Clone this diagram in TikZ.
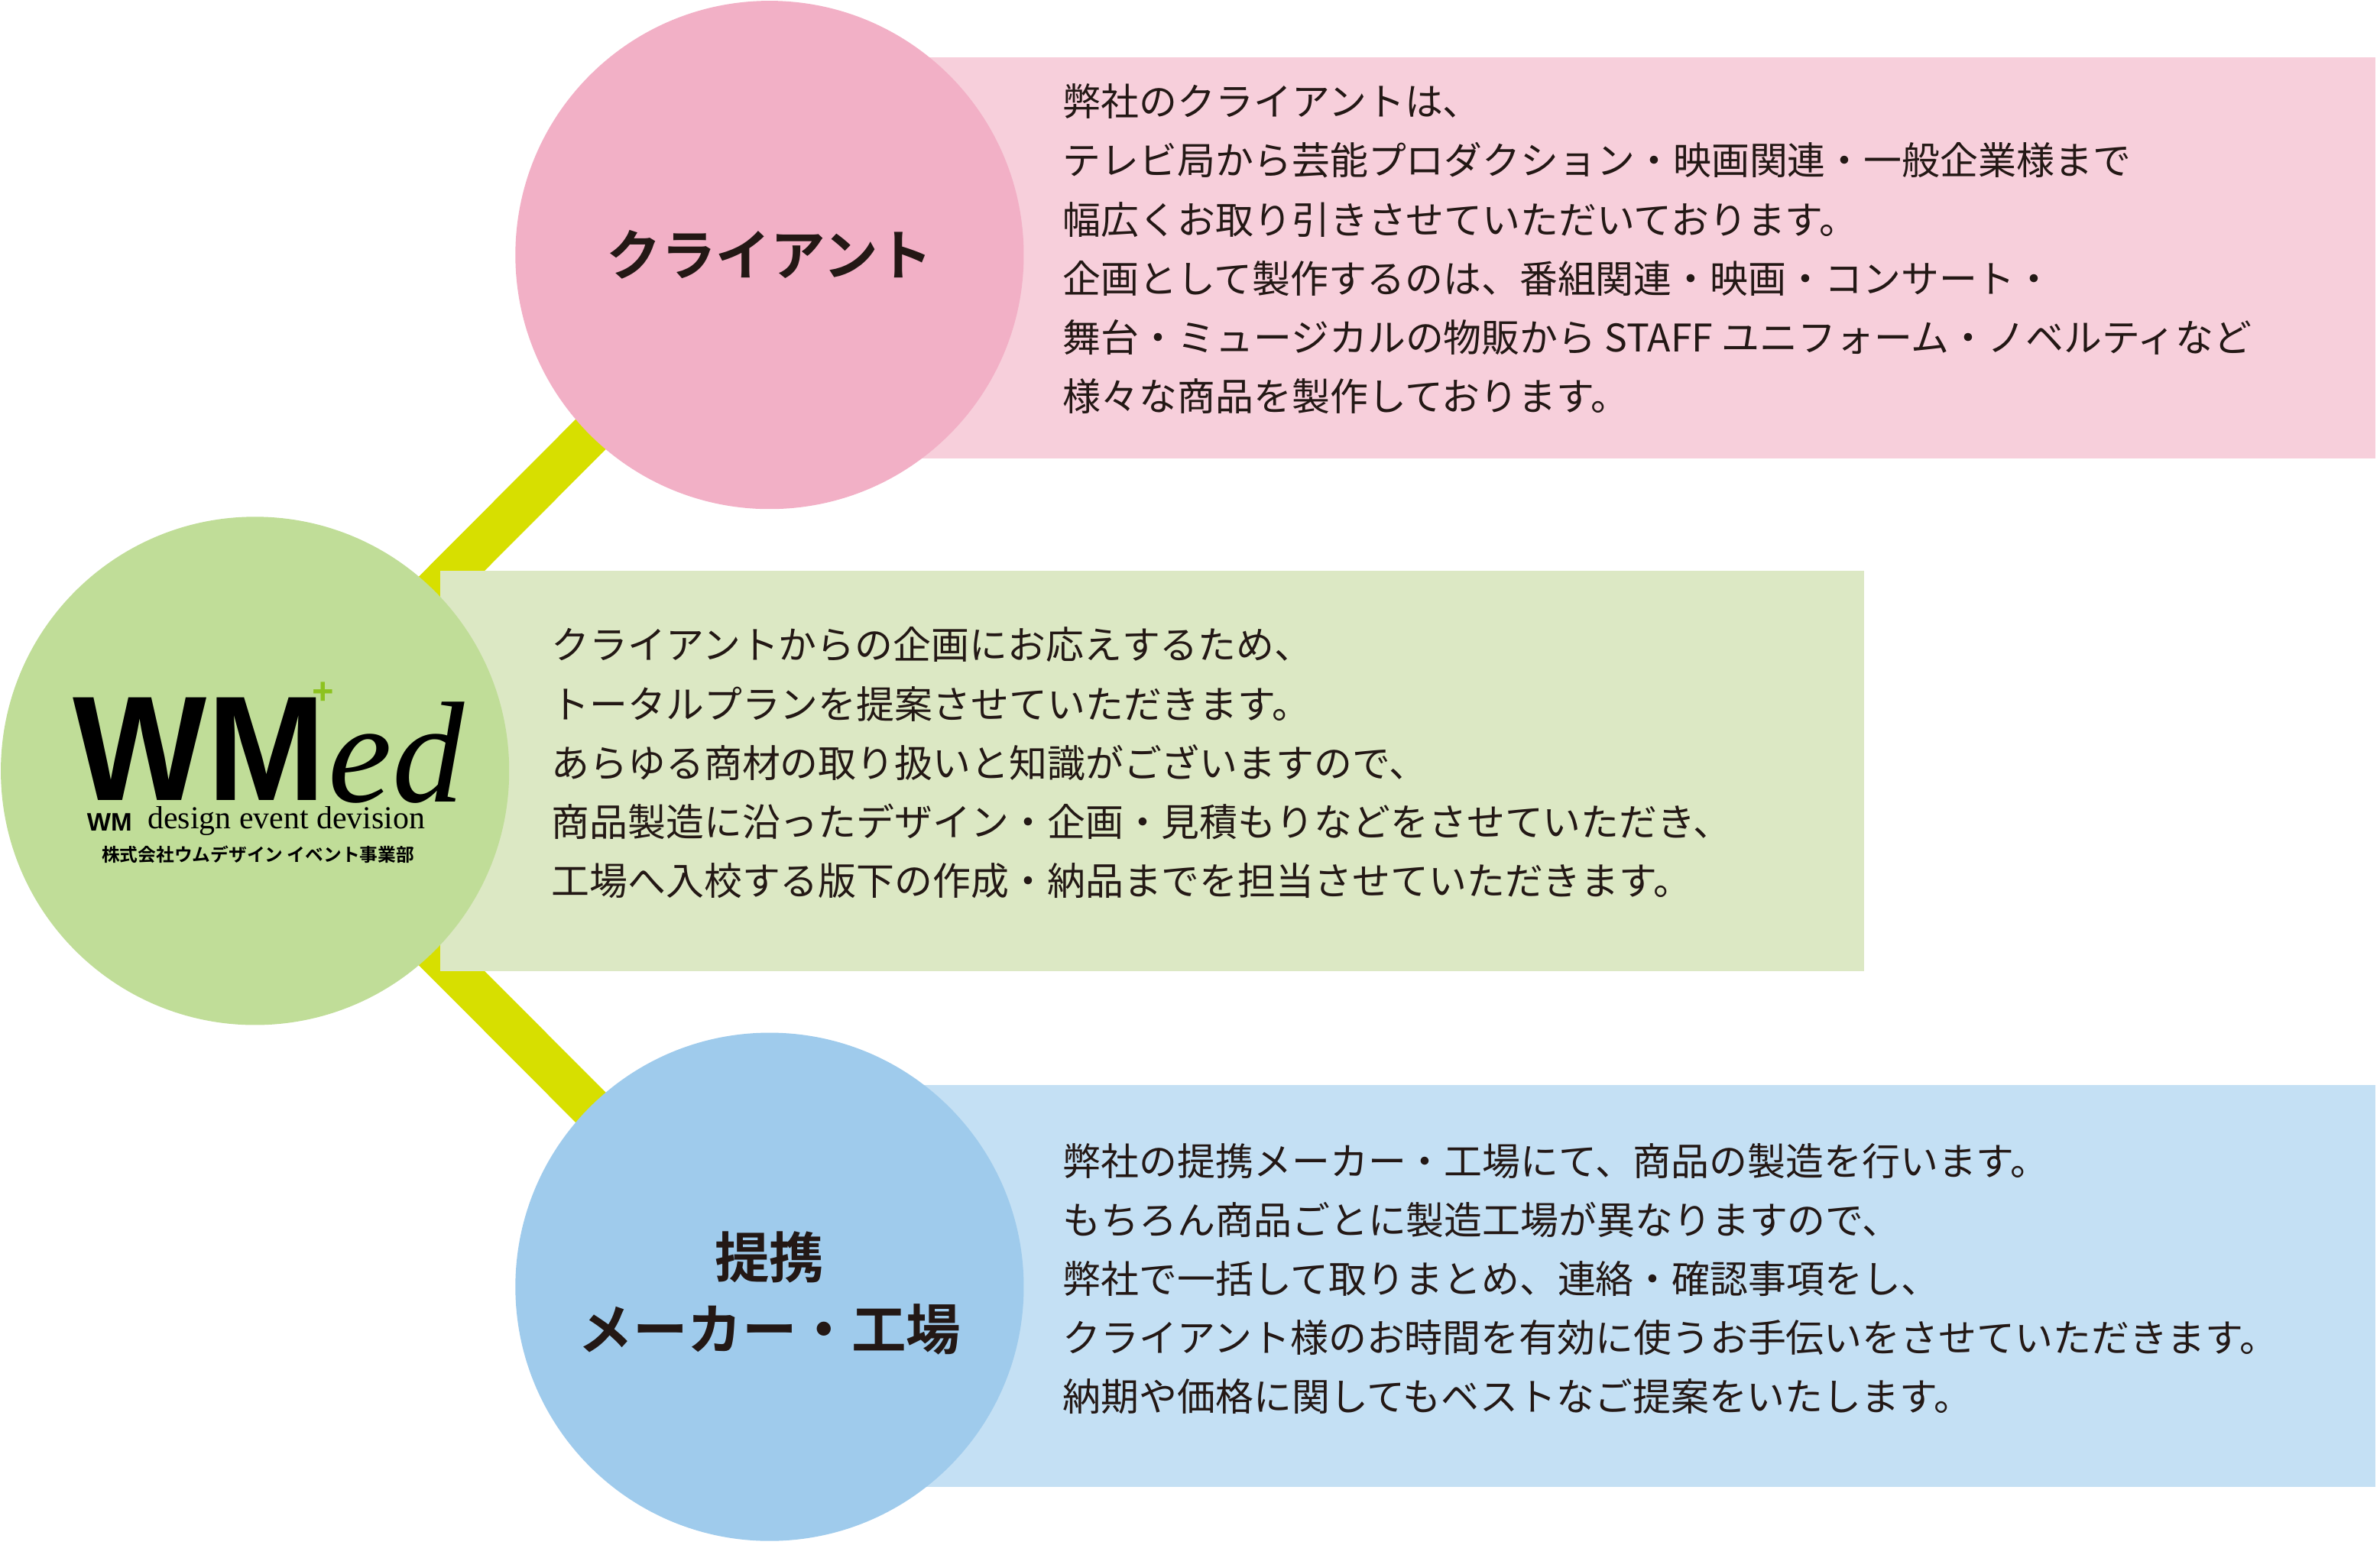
\documentclass[tikz,border=0pt]{standalone}
\usepackage{fontspec}
\setmainfont{Liberation Serif}
\newfontfamily\jpfont{Noto Sans CJK JP}
\newfontfamily\jpbold{Noto Sans CJK JP Bold}
\newfontfamily\logofont{Liberation Sans}
\definecolor{PinkBox}{HTML}{F7CFDB}
\definecolor{PinkDisc}{HTML}{F2B0C6}
\definecolor{GreenBox}{HTML}{DCE8C4}
\definecolor{GreenDisc}{HTML}{C0DD98}
\definecolor{BlueBox}{HTML}{C4E0F4}
\definecolor{BlueDisc}{HTML}{9FCBEC}
\definecolor{LinkYellow}{HTML}{D7DF00}
\definecolor{PlusGreen}{HTML}{8DC21F}
\definecolor{InkText}{HTML}{231815}
\tikzset{
  disc/.style={circle,minimum size=6.7cm,inner sep=0pt},
  link/.style={line width=0.56cm,LinkYellow},
  body/.style={anchor=north west,align=left,inner sep=0pt,text=InkText,
    font=\jpfont\fontsize{14.3pt}{22.1pt}\selectfont},
  title/.style={align=center,text=InkText,font=\jpbold\fontsize{20.5pt}{27pt}\selectfont}
}
\begin{document}
\begin{tikzpicture}[x=0.02cm,y=-0.02cm]
\useasboundingbox (0,0) rectangle (1568,1018);
\coordinate (ctop) at (507,168);
\coordinate (cmid) at (168,508);
\coordinate (cbot) at (507,848);
\draw[link] (cmid) -- (ctop);
\draw[link] (cmid) -- (cbot);
\fill[PinkBox] (600,38) rectangle (1565,302);
\fill[GreenBox] (290,376) rectangle (1228,640);
\fill[BlueBox] (600,715) rectangle (1565,980);
\node[disc,fill=PinkDisc] (client) at (ctop) {};
\node[disc,fill=GreenDisc] (wmed) at (cmid) {};
\node[disc,fill=BlueDisc] (maker) at (cbot) {};
\node[title] at (client) {クライアント};
\node[title] at ([yshift=-0.08cm]maker) {提携\\メーカー・工場};
% logo
\node[anchor=south west,inner sep=0pt,font=\logofont\bfseries\fontsize{56pt}{56pt}\selectfont,xscale=0.95] (wm) at (48,528) {WM};
\node[anchor=south west,inner sep=0pt,font=\itshape\fontsize{54pt}{54pt}\selectfont] (ed) at (216,530) {ed};
\node[inner sep=0pt,font=\logofont\bfseries\fontsize{14pt}{14pt}\selectfont,text=PlusGreen] at (213,457) {+};
\node[anchor=south west,inner sep=0pt,font=\logofont\bfseries\fontsize{9.5pt}{9.5pt}\selectfont] (wmsmall) at (57,548) {WM};
\node[anchor=south west,inner sep=0pt,font=\fontsize{12pt}{12pt}\selectfont] at (97,551) {design event devision};
\node[inner sep=0pt,font=\jpbold\fontsize{6.8pt}{7pt}\selectfont] at (170,563) {株式会社ウムデザイン イベント事業部};
% texts
\node[body] at (700,55) {弊社のクライアントは、\\
テレビ局から芸能プロダクション・映画関連・一般企業様まで\\
幅広くお取り引きさせていただいております。\\
企画として製作するのは、番組関連・映画・コンサート・\\
舞台・ミュージカルの物販から STAFF ユニフォーム・ノベルティなど\\
様々な商品を製作しております。};
\node[body] at (363,413) {クライアントからの企画にお応えするため、\\
トータルプランを提案させていただきます。\\
あらゆる商材の取り扱いと知識がございますので、\\
商品製造に沿ったデザイン・企画・見積もりなどをさせていただき、\\
工場へ入校する版下の作成・納品までを担当させていただきます。};
\node[body] at (700,753) {弊社の提携メーカー・工場にて、商品の製造を行います。\\
もちろん商品ごとに製造工場が異なりますので、\\
弊社で一括して取りまとめ、連絡・確認事項をし、\\
クライアント様のお時間を有効に使うお手伝いをさせていただきます。\\
納期や価格に関してもベストなご提案をいたします。};
\end{tikzpicture}
\end{document}
